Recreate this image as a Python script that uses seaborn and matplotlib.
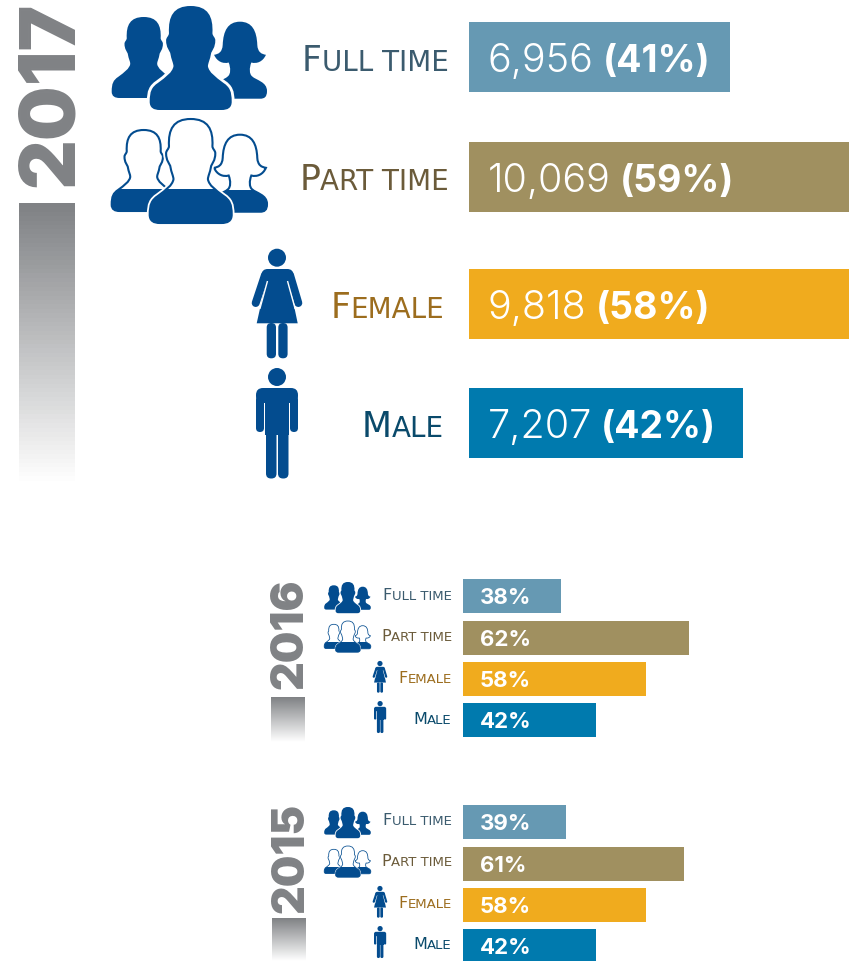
import numpy as np
import pandas as pd
import seaborn as sns
import matplotlib.pyplot as plt
from matplotlib.colors import LinearSegmentedColormap
from matplotlib.patches import PathPatch, Circle, Rectangle, FancyBboxPatch, Polygon
from matplotlib.path import Path
from matplotlib.transforms import Affine2D

# data
employment = ['Full time', 'Part time']
gender = ['Female', 'Male']
counts_2017_emp = [6956, 10069]
counts_2017_gen = [9818, 7207]
share_2017_emp = [41, 59]
share_2017_gen = [58, 42]
share_2016_emp = [38, 62]
share_2016_gen = [58, 42]
share_2015_emp = [39, 61]
share_2015_gen = [58, 42]

FONT = 'Inter'
BLUE = '#034c8f'
GREY = '#808285'
BAR_COLORS = {'Full time': '#6699b3', 'Part time': '#a09060', 'Female': '#f0ab1e', 'Male': '#007aae'}
TEXT_COLORS = {'Full time': '#3b5b6e', 'Part time': '#6b5b3a', 'Female': '#9c6d1e', 'Male': '#0a4a6b'}

plt.rcParams['font.family'] = [FONT, 'DejaVu Sans']
W, H = 849, 961
fig = plt.figure(figsize=(W / 100, H / 100), dpi=100, facecolor='white')


def bar_axes(left, top, width, height, cats, vals, xlim, bar_w):
    # two bars, positioned in pixels from the top left of the figure
    ax = fig.add_axes([left / W, 1 - (top + height) / H, width / W, height / H])
    df = pd.DataFrame({'cat': cats, 'val': vals})
    sns.barplot(data=df, x='val', y='cat', hue='cat', palette=BAR_COLORS, width=bar_w,
                dodge=False, legend=False, ax=ax, saturation=1)
    ax.set_xlim(*xlim)
    ax.set_ylim(1.5, -0.5)
    ax.axis('off')
    ax.patch.set_alpha(0)
    return ax


bar_axes(469, -3, 380, 240, employment, counts_2017_emp, (129, 10069), 70 / 120)
bar_axes(469, 244.5, 380, 238, gender, counts_2017_gen, (458, 9818), 70 / 119)
bar_axes(463, 575, 240, 84, employment, share_2016_emp, (19.6, 64.6), 34 / 42)
bar_axes(463, 658.5, 240, 82, gender, share_2016_gen, (0, 75.9), 34 / 41)
bar_axes(463, 801, 240, 84, employment, share_2015_emp, (19.6, 64.6), 34 / 42)
bar_axes(463, 884.5, 240, 82, gender, share_2015_gen, (0, 75.9), 34 / 41)

# overlay in pixel coordinates for icons and text
ov = fig.add_axes([0, 0, 1, 1], zorder=5)
ov.set_xlim(0, W)
ov.set_ylim(H, 0)
ov.axis('off')
ov.patch.set_alpha(0)
renderer = fig.canvas.get_renderer()


def runs(x, y, parts, ha='left', gap=0, family=None):
    # parts = (text, size, weight, color), placed side by side on one baseline
    items = [ov.text(0, y, t, fontsize=s, fontweight=w, color=c, va='baseline', ha='left',
                     family=family or [FONT, 'DejaVu Sans'])
             for t, s, w, c in parts]
    widths = [it.get_window_extent(renderer).width for it in items]
    pos = x - sum(widths) if ha == 'right' else x
    for it, wd in zip(items, widths):
        it.set_x(pos)
        pos += wd + gap


def small_caps(x, y, label, big, small):
    c = TEXT_COLORS[label]
    up = label.upper()
    runs(x, y, [(up[0], big, 'normal', c), (up[1:], small, 'normal', c)], ha='right',
         family=['DejaVu Sans'])


def mirrored(segs):
    # segs: right half of a bust as bezier triples, starting at top centre
    verts = [(0, 0)]
    codes = [Path.MOVETO]
    for s in segs:
        verts += s
        codes += [Path.CURVE4] * 3
    pts = verts[:-1]
    verts += [(-a, b) for a, b in reversed(pts)]
    codes += [Path.CURVE4] * (len(pts))
    verts.append((0, 0))
    codes.append(Path.CLOSEPOLY)
    return Path(verts, codes)


MALE_BUST = mirrored([
    [(.42, 0), (.55, .10), (.53, .26)],
    [(.53, .29), (.60, .30), (.60, .33)],
    [(.60, .40), (.52, .43), (.50, .45)],
    [(.47, .52), (.42, .55), (.42, .58)],
    [(.45, .64), (.60, .68), (.80, .74)],
    [(.95, .78), (1, .82), (1, .92)],
    [(1, .98), (.90, 1), (.75, 1)],
    [(.5, 1), (.25, 1), (0, 1)],
])
FEMALE_BUST = mirrored([
    [(.45, 0), (.62, .12), (.64, .30)],
    [(.66, .40), (.80, .42), (.96, .43)],
    [(.85, .52), (.62, .55), (.42, .53)],
    [(.34, .60), (.34, .68), (.45, .71)],
    [(.60, .76), (1, .78), (1, .90)],
    [(1, .98), (.90, 1), (.75, 1)],
    [(.5, 1), (.25, 1), (0, 1)],
])


def bust(path, cx, top, w, h, x0, y0, s, outline, fill_from):
    tr = Affine2D().scale(w, h).translate(cx, top).scale(s).translate(x0, y0) + ov.transData
    ov.add_patch(PathPatch(path, fc='white', ec='white', lw=max(3.4 * s, 1.0) * 1.2, transform=tr))
    if outline:
        ov.add_patch(PathPatch(path, fc='white', ec=BLUE, lw=max(1.5 * s, 0.55), transform=tr))
        clip = Rectangle((-1.2, fill_from), 2.4, 1.2 - fill_from, transform=tr)
        p = PathPatch(path, fc=BLUE, ec='none', transform=tr)
        ov.add_patch(p)
        p.set_clip_path(clip)
    else:
        ov.add_patch(PathPatch(path, fc=BLUE, ec='none', transform=tr))


def group_icon(x0, y0, s, outline=False):
    bust(MALE_BUST, 32.7, 11, 32, 81, x0, y0, s, outline, .73)
    bust(FEMALE_BUST, 129, 15.7, 27, 77, x0, y0, s, outline, .72)
    bust(MALE_BUST, 79.7, 0, 41, 104, x0, y0, s, outline, .67)


def rbox(tr, x, y, w, h, r):
    ov.add_patch(FancyBboxPatch((x, y), w, h, boxstyle=f'round,pad=0,rounding_size={r}',
                                fc=BLUE, ec='none', transform=tr))


def man_icon(x0, y0, s):
    tr = Affine2D().scale(s).translate(x0, y0) + ov.transData
    ov.add_patch(Circle((21, 9), 9, fc=BLUE, ec='none', transform=tr))
    rbox(tr, 0, 20, 42, 15, 7)
    rbox(tr, 0, 28, 8, 36, 4)
    rbox(tr, 34, 28, 8, 36, 4)
    ov.add_patch(Rectangle((9.5, 25), 23.5, 42, fc=BLUE, ec='none', transform=tr))
    rbox(tr, 10, 55, 10.5, 55.5, 5)
    rbox(tr, 22, 55, 10.5, 55.5, 5)


def woman_icon(x0, y0, s):
    tr = Affine2D().scale(s).translate(x0, y0) + ov.transData
    ov.add_patch(Circle((25, 8.7), 9, fc=BLUE, ec='none', transform=tr))
    rbox(tr, 9.7, 20, 31.6, 12, 6)
    ov.add_patch(Polygon([(15, 28), (36, 28), (45.7, 74.3), (4.7, 74.3)], fc=BLUE, ec='none', transform=tr))
    for xs, ys in [((13, 3.7), (26, 54)), ((38, 46.3), (26, 54))]:
        ov.plot(xs, ys, color=BLUE, lw=8 * s * .72, solid_capstyle='round', transform=tr)
    for xs, ys in [((15.3, 8), (32.7, 59.3)), ((35.7, 43), (32.7, 59.3))]:
        ov.plot(xs, ys, color='white', lw=1.4 * s * .72, transform=tr)
    rbox(tr, 14.7, 74, 9.3, 35.3, 4.5)
    rbox(tr, 26.3, 74, 9.3, 35.3, 4.5)


fade = LinearSegmentedColormap.from_list('fade', [GREY, 'white'])


def year_block(label, x, text_y, size, bx0, bx1, by0, by1):
    ov.text(x, text_y, label, rotation=90, ha='center', va='center', color=GREY,
            fontsize=size, fontweight='black')
    ov.imshow(np.linspace(0, 1, 64).reshape(-1, 1), cmap=fade, aspect='auto',
              extent=(bx0, bx1, by1, by0), zorder=1)
    ov.set_xlim(0, W)
    ov.set_ylim(H, 0)


# 2017
year_block('2017', 52, 94.5, 55.5, 19, 75, 203, 485)
group_icon(111, 6, 1)
group_icon(111, 119, 1, outline=True)
woman_icon(252, 249, 1)
man_icon(256, 368, 1)
small_caps(449, 71, 'Full time', 25, 20)
small_caps(449, 190, 'Part time', 25, 20)
small_caps(444, 318, 'Female', 25, 20)
small_caps(444, 437, 'Male', 25, 20)
for y, n, p in zip([72, 192], counts_2017_emp, share_2017_emp):
    runs(488, y, [(f'{n:,}', 28.5, 300, 'white'), (f'({p}%)', 27, 'bold', 'white')], gap=9)
for y, n, p in zip([319, 438], counts_2017_gen, share_2017_gen):
    runs(488, y, [(f'{n:,}', 28.5, 300, 'white'), (f'({p}%)', 27, 'bold', 'white')], gap=9)

# 2016 and 2015
for year, dy, xoff, emp, gen, ty, by0, by1 in [
        ('2016', 0, 0, share_2016_emp, share_2016_gen, 634, 697, 742),
        ('2015', 225, 1, share_2015_emp, share_2015_gen, 858, 918, 961)]:
    year_block(year, 291 + xoff, ty, 32, 271 + xoff, 305 + xoff, by0, by1)
    group_icon(324, 582 + dy, .3)
    group_icon(324, 621 + dy, .3, outline=True)
    woman_icon(372.7, 661 + dy, .29)
    man_icon(374, 701 + dy, .29)
    for lab, y in zip(employment + gender, [600, 641, 683, 724]):
        small_caps(452, y + dy, lab, 11.5, 9.5)
    for y, p in zip([604, 646, 687, 728], emp + gen):
        ov.text(480, y + dy + (1 if dy else 0), f'{p}%', color='white', fontsize=16, fontweight='bold', va='baseline')

fig.savefig('out.png', dpi=100)
